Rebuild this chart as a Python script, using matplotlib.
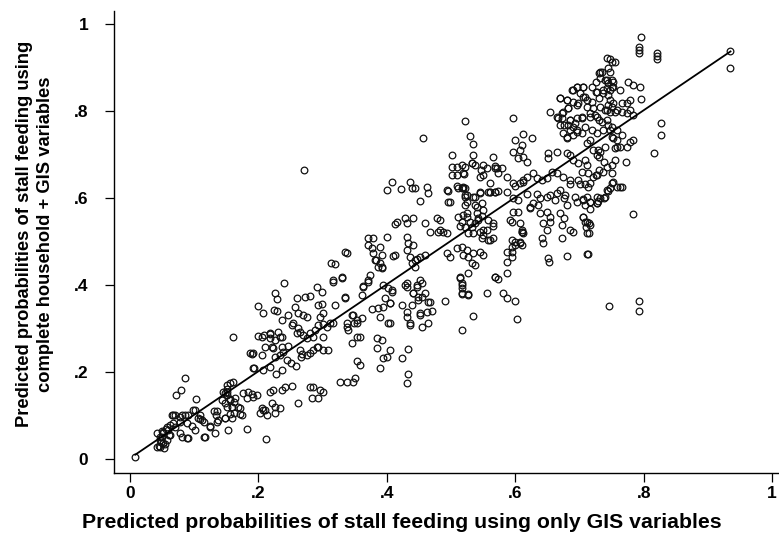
import matplotlib
matplotlib.use("Agg")
import matplotlib.pyplot as plt
import numpy as np

# Predicted probabilities (x: only GIS variables, y: complete household + GIS variables)
low_pts = [
    (0.008, 0.005),
    (0.045, 0.030), (0.048, 0.040), (0.050, 0.050), (0.052, 0.060), (0.055, 0.035), (0.058, 0.045),
    (0.060, 0.055), (0.050, 0.065), (0.047, 0.045), (0.053, 0.025), (0.056, 0.070), (0.051, 0.037),
    (0.047, 0.028), (0.042, 0.028), (0.042, 0.060), (0.047, 0.051), (0.051, 0.062), (0.062, 0.055),
    (0.058, 0.074), (0.067, 0.083),
    (0.086, 0.186), (0.079, 0.159), (0.072, 0.147), (0.103, 0.138), (0.160, 0.280),
    (0.148, 0.152), (0.156, 0.136), (0.159, 0.120), (0.164, 0.140), (0.171, 0.117), (0.174, 0.101),
    (0.131, 0.110), (0.137, 0.090), (0.148, 0.094), (0.153, 0.067), (0.132, 0.060), (0.117, 0.051),
    (0.125, 0.074), (0.115, 0.085), (0.182, 0.069), (0.109, 0.092), (0.101, 0.067), (0.089, 0.048),
    (0.078, 0.097), (0.086, 0.101), (0.070, 0.101), (0.065, 0.101), (0.062, 0.078), (0.070, 0.074),
    (0.078, 0.085), (0.059, 0.067), (0.101, 0.113), (0.106, 0.094), (0.112, 0.090),
    (0.156, 0.175), (0.160, 0.177), (0.151, 0.161), (0.145, 0.154), (0.151, 0.147), (0.156, 0.138),
    (0.162, 0.131), (0.168, 0.120), (0.135, 0.110), (0.134, 0.101),
    (0.115, 0.051), (0.125, 0.076), (0.109, 0.101), (0.098, 0.113), (0.090, 0.101), (0.097, 0.076),
    (0.090, 0.048), (0.081, 0.051), (0.078, 0.060), (0.067, 0.101), (0.081, 0.101), (0.089, 0.083),
    (0.151, 0.170), (0.151, 0.154), (0.143, 0.136), (0.148, 0.129), (0.151, 0.120), (0.159, 0.120),
    (0.162, 0.106), (0.156, 0.104), (0.148, 0.094), (0.159, 0.094), (0.171, 0.104),
    (0.135, 0.085), (0.176, 0.152), (0.182, 0.140), (0.192, 0.143), (0.198, 0.147), (0.184, 0.154),
    (0.190, 0.149), (0.187, 0.244), (0.192, 0.244), (0.192, 0.209), (0.190, 0.241), (0.193, 0.209),
]

midlow_pts = [
    (0.200, 0.283), (0.209, 0.285), (0.218, 0.287), (0.205, 0.239), (0.221, 0.257), (0.207, 0.205),
    (0.218, 0.211), (0.212, 0.046), (0.207, 0.113), (0.202, 0.106), (0.210, 0.113), (0.213, 0.101),
    (0.206, 0.117), (0.221, 0.129), (0.226, 0.120), (0.234, 0.117), (0.226, 0.106), (0.218, 0.154),
    (0.223, 0.159), (0.237, 0.159), (0.241, 0.166), (0.252, 0.168), (0.262, 0.129), (0.280, 0.166),
    (0.285, 0.166), (0.296, 0.159), (0.283, 0.140), (0.293, 0.140), (0.301, 0.154), (0.327, 0.177),
    (0.338, 0.177), (0.347, 0.177),
    (0.206, 0.280), (0.218, 0.290), (0.218, 0.278), (0.226, 0.274), (0.234, 0.280), (0.237, 0.280),
    (0.231, 0.292), (0.210, 0.257), (0.223, 0.255), (0.237, 0.257), (0.238, 0.246), (0.234, 0.239),
    (0.226, 0.234), (0.199, 0.352), (0.207, 0.336), (0.224, 0.343), (0.229, 0.340), (0.226, 0.382),
    (0.229, 0.368), (0.240, 0.405), (0.237, 0.320),
    (0.246, 0.331), (0.260, 0.370), (0.257, 0.349), (0.262, 0.336), (0.270, 0.331), (0.276, 0.326),
    (0.273, 0.372), (0.280, 0.375), (0.291, 0.395), (0.299, 0.384), (0.293, 0.354), (0.299, 0.356),
    (0.301, 0.336), (0.296, 0.326), (0.254, 0.313), (0.262, 0.301), (0.265, 0.292), (0.260, 0.290),
    (0.252, 0.308), (0.270, 0.285), (0.276, 0.278), (0.280, 0.290), (0.285, 0.280), (0.288, 0.297),
    (0.293, 0.308), (0.301, 0.310), (0.307, 0.303), (0.312, 0.313), (0.316, 0.313),
    (0.301, 0.280), (0.293, 0.257), (0.301, 0.250), (0.308, 0.250), (0.280, 0.244), (0.276, 0.239),
    (0.265, 0.250), (0.268, 0.241), (0.285, 0.250), (0.291, 0.257),
    (0.316, 0.411), (0.330, 0.416), (0.313, 0.450), (0.319, 0.448), (0.338, 0.474), (0.319, 0.354),
    (0.335, 0.370), (0.338, 0.313), (0.338, 0.303), (0.340, 0.297), (0.346, 0.331), (0.349, 0.313),
    (0.354, 0.320), (0.346, 0.267), (0.353, 0.280), (0.271, 0.664),
    (0.244, 0.228), (0.251, 0.221), (0.259, 0.214), (0.236, 0.205), (0.228, 0.196), (0.266, 0.235),
    (0.246, 0.260),
]

mid_pts = [
    (0.316, 0.407), (0.335, 0.372), (0.361, 0.377), (0.363, 0.398), (0.371, 0.407), (0.394, 0.400),
    (0.408, 0.384), (0.405, 0.359), (0.386, 0.347), (0.377, 0.345), (0.389, 0.326), (0.402, 0.313),
    (0.424, 0.354), (0.431, 0.338), (0.431, 0.326), (0.439, 0.354), (0.436, 0.313), (0.452, 0.336),
    (0.455, 0.303), (0.464, 0.313), (0.464, 0.361), (0.470, 0.340), (0.459, 0.382), (0.449, 0.372),
    (0.441, 0.382), (0.428, 0.400), (0.447, 0.400), (0.455, 0.405), (0.354, 0.313), (0.361, 0.324),
    (0.347, 0.331), (0.358, 0.280), (0.385, 0.278), (0.393, 0.274), (0.385, 0.255), (0.405, 0.251),
    (0.394, 0.232), (0.400, 0.234), (0.424, 0.232), (0.433, 0.253), (0.354, 0.225), (0.358, 0.216),
    (0.389, 0.209), (0.433, 0.195), (0.431, 0.175), (0.350, 0.186), (0.490, 0.363), (0.517, 0.400),
    (0.517, 0.382), (0.526, 0.379), (0.556, 0.382), (0.534, 0.330), (0.517, 0.297),
    (0.371, 0.508), (0.379, 0.508), (0.371, 0.492), (0.377, 0.485), (0.389, 0.487), (0.400, 0.510),
    (0.379, 0.474), (0.383, 0.457), (0.389, 0.451), (0.393, 0.441), (0.410, 0.467), (0.431, 0.510),
    (0.433, 0.497), (0.441, 0.492), (0.431, 0.480), (0.436, 0.464), (0.447, 0.460), (0.439, 0.451),
    (0.444, 0.441), (0.452, 0.464), (0.459, 0.469),
    (0.494, 0.474), (0.498, 0.464), (0.509, 0.485), (0.517, 0.487), (0.525, 0.480), (0.519, 0.469),
    (0.526, 0.464), (0.534, 0.474), (0.545, 0.476), (0.550, 0.469), (0.533, 0.451), (0.537, 0.446),
    (0.514, 0.418), (0.526, 0.428), (0.569, 0.418), (0.330, 0.418),
    (0.335, 0.476), (0.363, 0.395), (0.371, 0.411), (0.374, 0.423), (0.393, 0.469), (0.382, 0.457),
    (0.386, 0.441), (0.393, 0.439), (0.413, 0.469), (0.444, 0.457), (0.452, 0.411), (0.447, 0.395),
    (0.441, 0.382), (0.431, 0.405), (0.431, 0.395), (0.408, 0.389), (0.397, 0.370), (0.405, 0.359),
    (0.394, 0.349), (0.402, 0.393), (0.449, 0.366), (0.455, 0.372), (0.467, 0.361), (0.463, 0.338),
    (0.452, 0.331), (0.436, 0.308), (0.405, 0.313),
    (0.408, 0.637), (0.436, 0.637), (0.439, 0.623), (0.422, 0.621), (0.400, 0.618), (0.464, 0.611),
    (0.428, 0.554), (0.441, 0.554), (0.431, 0.543), (0.416, 0.545), (0.413, 0.540), (0.483, 0.549),
    (0.480, 0.522), (0.488, 0.522), (0.494, 0.520), (0.456, 0.738),
    (0.463, 0.625), (0.494, 0.618), (0.495, 0.591), (0.478, 0.554), (0.483, 0.526), (0.467, 0.522),
    (0.459, 0.543), (0.452, 0.593), (0.444, 0.623),
]

midhigh_pts = [
    (0.522, 0.777), (0.530, 0.743), (0.534, 0.724), (0.502, 0.699), (0.534, 0.699), (0.565, 0.694),
    (0.502, 0.671), (0.509, 0.671), (0.517, 0.676), (0.533, 0.680), (0.537, 0.676), (0.502, 0.653),
    (0.509, 0.653), (0.520, 0.655), (0.546, 0.664), (0.550, 0.653), (0.556, 0.669), (0.568, 0.673),
    (0.571, 0.669), (0.495, 0.616), (0.511, 0.623), (0.517, 0.623), (0.522, 0.623),
    (0.498, 0.591), (0.522, 0.602), (0.525, 0.591), (0.537, 0.602), (0.545, 0.614), (0.561, 0.614),
    (0.569, 0.614), (0.537, 0.584), (0.540, 0.579), (0.548, 0.589), (0.550, 0.572),
    (0.511, 0.556), (0.519, 0.561), (0.525, 0.556), (0.517, 0.545), (0.514, 0.536), (0.522, 0.533),
    (0.530, 0.545), (0.533, 0.533), (0.537, 0.543), (0.542, 0.554), (0.548, 0.559), (0.558, 0.549),
    (0.565, 0.536), (0.556, 0.526), (0.545, 0.522), (0.534, 0.520), (0.526, 0.520), (0.565, 0.508),
    (0.558, 0.503), (0.550, 0.515),
    (0.509, 0.628), (0.519, 0.623), (0.525, 0.607), (0.522, 0.584), (0.525, 0.566), (0.540, 0.566),
    (0.542, 0.549), (0.550, 0.526), (0.548, 0.508), (0.561, 0.503), (0.565, 0.543), (0.592, 0.549),
    (0.595, 0.545), (0.607, 0.543), (0.611, 0.522), (0.612, 0.520), (0.600, 0.499), (0.607, 0.497),
    (0.595, 0.476), (0.597, 0.568), (0.604, 0.568), (0.623, 0.577), (0.628, 0.589), (0.639, 0.600),
    (0.654, 0.607), (0.558, 0.614), (0.573, 0.616), (0.587, 0.614), (0.600, 0.628), (0.612, 0.637),
    (0.651, 0.462), (0.653, 0.453), (0.681, 0.467), (0.713, 0.471), (0.746, 0.352),
    (0.587, 0.428), (0.587, 0.453), (0.595, 0.464), (0.569, 0.418), (0.573, 0.414), (0.581, 0.382),
    (0.587, 0.370), (0.600, 0.363), (0.603, 0.322), (0.526, 0.377), (0.514, 0.416), (0.517, 0.405),
    (0.517, 0.393), (0.517, 0.379),
    (0.604, 0.595), (0.623, 0.579), (0.636, 0.584), (0.639, 0.566), (0.650, 0.568), (0.654, 0.556),
    (0.654, 0.545), (0.643, 0.543), (0.650, 0.526), (0.673, 0.538), (0.675, 0.554), (0.670, 0.566),
    (0.662, 0.595), (0.675, 0.600), (0.681, 0.584), (0.696, 0.591), (0.706, 0.595), (0.717, 0.591),
    (0.727, 0.589), (0.732, 0.600), (0.740, 0.602), (0.748, 0.623), (0.763, 0.625), (0.706, 0.556),
    (0.712, 0.545), (0.717, 0.538), (0.712, 0.520), (0.690, 0.522), (0.685, 0.526), (0.673, 0.508),
    (0.642, 0.508), (0.643, 0.497), (0.610, 0.492), (0.607, 0.499), (0.611, 0.522), (0.610, 0.526),
    (0.595, 0.503), (0.600, 0.492), (0.595, 0.487), (0.587, 0.476),
]

high_pts = [
    (0.597, 0.784), (0.612, 0.747), (0.626, 0.738), (0.600, 0.733), (0.611, 0.722), (0.597, 0.706),
    (0.607, 0.710), (0.612, 0.694), (0.618, 0.683), (0.604, 0.692),
    (0.654, 0.798), (0.670, 0.830), (0.681, 0.825), (0.688, 0.848), (0.696, 0.855), (0.701, 0.841),
    (0.706, 0.855), (0.709, 0.832), (0.720, 0.855), (0.726, 0.844), (0.726, 0.867), (0.730, 0.887),
    (0.735, 0.890), (0.743, 0.922), (0.750, 0.913), (0.743, 0.871), (0.750, 0.871), (0.748, 0.848),
    (0.752, 0.855), (0.736, 0.841), (0.730, 0.830), (0.719, 0.821), (0.712, 0.809), (0.696, 0.814),
    (0.690, 0.821), (0.682, 0.807), (0.673, 0.795), (0.667, 0.784), (0.675, 0.768), (0.685, 0.779),
    (0.693, 0.772), (0.704, 0.784), (0.709, 0.763), (0.717, 0.786), (0.724, 0.791), (0.730, 0.779),
    (0.743, 0.802), (0.750, 0.809), (0.755, 0.798), (0.743, 0.779), (0.750, 0.763), (0.758, 0.756),
    (0.736, 0.756), (0.727, 0.749), (0.719, 0.756), (0.696, 0.756), (0.690, 0.745), (0.681, 0.738),
    (0.752, 0.738), (0.758, 0.717),
    (0.651, 0.703), (0.651, 0.692), (0.665, 0.706), (0.681, 0.703), (0.685, 0.699), (0.690, 0.687),
    (0.698, 0.680), (0.709, 0.687), (0.712, 0.676), (0.727, 0.699), (0.729, 0.710), (0.730, 0.694),
    (0.738, 0.683), (0.743, 0.671), (0.750, 0.676), (0.755, 0.687), (0.730, 0.664), (0.726, 0.653),
    (0.721, 0.648), (0.713, 0.657), (0.704, 0.660), (0.698, 0.641), (0.685, 0.641), (0.674, 0.648),
    (0.665, 0.657), (0.657, 0.660), (0.649, 0.646), (0.642, 0.641), (0.634, 0.646), (0.628, 0.657),
    (0.618, 0.648), (0.612, 0.641), (0.607, 0.634), (0.597, 0.634), (0.587, 0.648), (0.579, 0.669),
    (0.573, 0.657), (0.569, 0.669), (0.561, 0.634), (0.545, 0.648), (0.550, 0.676), (0.533, 0.680),
    (0.519, 0.657), (0.522, 0.671), (0.519, 0.625), (0.522, 0.607), (0.534, 0.602), (0.545, 0.611),
    (0.561, 0.614), (0.569, 0.614), (0.597, 0.600), (0.618, 0.609), (0.634, 0.609), (0.649, 0.602),
    (0.665, 0.611), (0.678, 0.607), (0.693, 0.602), (0.712, 0.602), (0.727, 0.602), (0.743, 0.618),
    (0.750, 0.634), (0.758, 0.625), (0.685, 0.632), (0.701, 0.632), (0.713, 0.625), (0.670, 0.618),
]

top_pts = [
    (0.796, 0.970), (0.793, 0.947), (0.793, 0.940), (0.793, 0.933), (0.821, 0.933), (0.821, 0.926),
    (0.821, 0.920), (0.935, 0.938), (0.935, 0.899),
    (0.748, 0.920), (0.755, 0.913), (0.744, 0.899), (0.748, 0.890), (0.732, 0.890), (0.732, 0.876),
    (0.740, 0.871), (0.744, 0.864), (0.750, 0.855), (0.752, 0.867), (0.743, 0.853), (0.736, 0.848),
    (0.727, 0.844), (0.744, 0.837), (0.748, 0.825), (0.744, 0.814), (0.752, 0.818), (0.763, 0.848),
    (0.776, 0.867), (0.783, 0.860), (0.794, 0.855), (0.796, 0.828), (0.779, 0.825), (0.774, 0.818),
    (0.766, 0.818), (0.779, 0.802), (0.783, 0.791), (0.774, 0.795), (0.766, 0.798), (0.759, 0.802),
    (0.748, 0.798), (0.740, 0.802), (0.732, 0.809), (0.721, 0.807), (0.712, 0.825), (0.706, 0.832),
    (0.698, 0.818), (0.690, 0.848), (0.696, 0.855), (0.706, 0.855), (0.681, 0.825), (0.670, 0.830),
    (0.682, 0.807), (0.674, 0.798), (0.665, 0.786), (0.673, 0.784), (0.685, 0.779), (0.696, 0.784),
    (0.704, 0.786), (0.717, 0.795), (0.727, 0.786), (0.735, 0.775), (0.745, 0.768), (0.748, 0.756),
    (0.751, 0.740), (0.759, 0.733), (0.766, 0.745), (0.779, 0.729), (0.783, 0.733), (0.774, 0.717),
    (0.763, 0.717), (0.755, 0.715), (0.740, 0.717), (0.732, 0.706), (0.721, 0.710), (0.717, 0.733),
    (0.712, 0.726), (0.704, 0.749), (0.696, 0.752), (0.685, 0.756), (0.674, 0.749), (0.681, 0.740),
    (0.670, 0.768), (0.682, 0.768), (0.690, 0.763),
    (0.827, 0.772), (0.827, 0.745), (0.816, 0.703), (0.773, 0.683),
    (0.783, 0.563), (0.766, 0.625), (0.752, 0.637), (0.745, 0.616), (0.738, 0.600), (0.727, 0.589),
    (0.729, 0.593), (0.727, 0.653), (0.717, 0.634), (0.709, 0.632), (0.751, 0.657), (0.737, 0.660),
    (0.706, 0.598), (0.717, 0.591), (0.709, 0.584), (0.717, 0.575), (0.706, 0.556), (0.709, 0.545),
    (0.715, 0.543), (0.710, 0.533), (0.715, 0.520), (0.712, 0.471), (0.793, 0.363), (0.793, 0.340),
]

# Fitted line (y = intercept + slope * x) over the range of x
fit_intercept = 0.002
fit_slope = 1.0
fit_x_range = [0.008, 0.935]

x_ticks = [0, 0.2, 0.4, 0.6, 0.8, 1.0]
x_ticklabels = ["0", ".2", ".4", ".6", ".8", "1"]
y_ticks = [0, 0.2, 0.4, 0.6, 0.8, 1.0]
y_ticklabels = ["0", ".2", ".4", ".6", ".8", "1"]

x_label = "Predicted probabilities of stall feeding using only GIS variables"
y_label = "Predicted probabilities of stall feeding using\ncomplete household + GIS variables"

all_pts = np.array(low_pts + midlow_pts + mid_pts + midhigh_pts + high_pts + top_pts)
gis_only = all_pts[:, 0]
complete_hh = all_pts[:, 1]

plt.rcParams['font.family'] = ['Liberation Sans', 'DejaVu Sans']
plt.rcParams['font.weight'] = 'bold'

W, H = 779, 537
fig = plt.figure(figsize=(W / 100, H / 100), dpi=100)
ax = fig.add_axes([114 / W, 1 - 473 / H, (778 - 114) / W, (473 - 11) / H])

ax.plot(gis_only, complete_hh, linestyle='none', marker='o', markersize=4.8,
        markerfacecolor='none', markeredgecolor='#111111', markeredgewidth=0.9)

fx = np.array(fit_x_range)
ax.plot(fx, fit_intercept + fit_slope * fx, color='black', linewidth=1.3)

ax.set_xlim(-0.025, 1.009)
ax.set_ylim(-0.032, 1.03)
for s in ['top', 'right']:
    ax.spines[s].set_visible(False)
for s in ['left', 'bottom']:
    ax.spines[s].set_linewidth(1.0)
    ax.spines[s].set_color('black')

ax.set_xticks(x_ticks)
ax.set_xticklabels(x_ticklabels, fontsize=12.5, fontweight='bold')
ax.set_yticks(y_ticks)
ax.set_yticklabels(y_ticklabels, fontsize=12.5, fontweight='bold')
ax.tick_params(axis='x', direction='out', length=6.5, width=0.9, pad=3)
ax.tick_params(axis='y', direction='out', length=6.5, width=0.9, pad=12)

fig.text(402 / W, 1 - 522 / H, x_label, ha='center', va='center',
         fontsize=15.3, fontweight='bold')
fig.text(35 / W, 1 - 234 / H, y_label, ha='center', va='center', rotation=90,
         multialignment='center', fontsize=13.2, fontweight='bold', linespacing=1.3)

fig.savefig('out.png', dpi=100)
